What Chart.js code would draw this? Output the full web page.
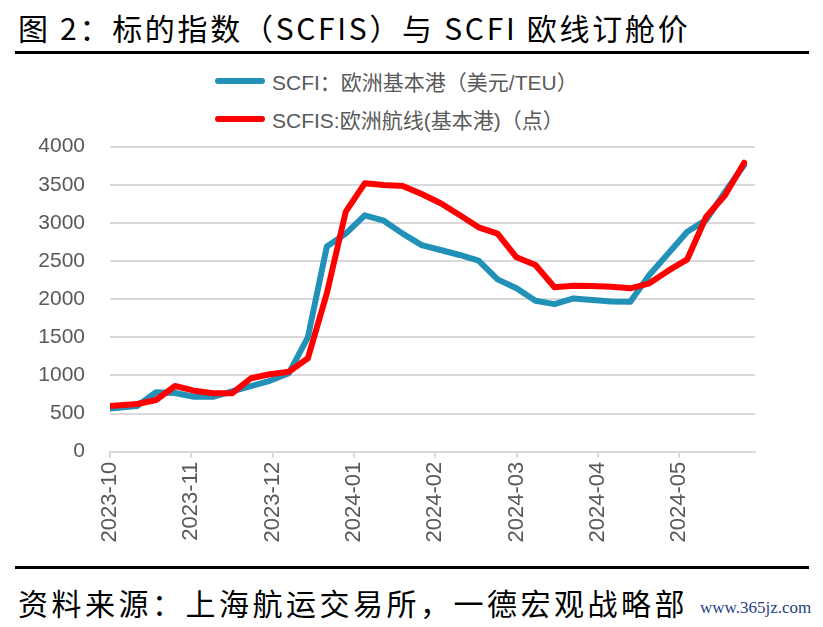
<!DOCTYPE html>
<html lang="zh">
<head>
<meta charset="UTF-8">
<script src="https://cdn.jsdelivr.net/npm/chart.js"></script>
<style>
  body { margin: 0; background: #fff; }
  .page { position: relative; width: 823px; height: 627px; overflow: hidden; }
  .rule { position: absolute; left: 15px; width: 794px; height: 3px; background: #000; }
  .cn { position: absolute; left: 18px; font-family: "Noto Sans CJK SC", sans-serif; font-size: 30px; letter-spacing: 3.5px; white-space: nowrap; color: #000; }
  #legend { position: absolute; left: 215px; top: 62px; font-family: "Liberation Sans", "Noto Sans CJK SC", sans-serif; font-size: 21px; color: #595959; }
  .row { display: flex; align-items: center; height: 38px; white-space: nowrap; }
  .swatch { width: 50px; height: 6px; border-radius: 3px; margin-right: 7px; }
  #wm { position: absolute; left: 700px; top: 598px; font-family: "Liberation Serif", serif; font-size: 17px; color: #1f3f7f; }
</style>
</head>
<body>
<div class="page">
  <div class="cn" style="top:5px; letter-spacing:2.7px">图 2：标的指数（SCFIS）与 SCFI 欧线订舱价</div>
  <div class="rule" style="top:51px"></div>
  <div id="legend"></div>
  <div style="position:absolute; left:0; top:56px; width:823px; height:510px">
    <canvas id="chart" width="823" height="510"></canvas>
  </div>
  <div class="rule" style="top:566px"></div>
  <div class="cn" style="top:580px">资料来源：上海航运交易所，一德宏观战略部</div>
  <div id="wm">www.365jz.com</div>
</div>

<script>
  // weekly observations
  const dates = ['2023-10-03', '2023-10-13', '2023-10-20', '2023-10-27',
    '2023-11-03', '2023-11-10', '2023-11-17', '2023-11-24',
    '2023-12-01', '2023-12-08', '2023-12-15', '2023-12-22', '2023-12-29',
    '2024-01-05', '2024-01-12', '2024-01-19', '2024-01-26',
    '2024-02-02', '2024-02-09', '2024-02-16', '2024-02-23',
    '2024-03-01', '2024-03-08', '2024-03-15', '2024-03-22', '2024-03-29',
    '2024-04-05', '2024-04-12', '2024-04-19', '2024-04-26',
    '2024-05-03', '2024-05-10', '2024-05-17', '2024-05-24'];

  const scfi = [565, 600, 780, 770, 720, 720, 790, 860, 930, 1030, 1500, 2690, 2860,
    3100, 3030, 2860, 2710, 2645, 2580, 2505, 2260, 2143, 1980, 1935, 2010, 1990,
    1970, 1968, 2317, 2600, 2885, 3040, 3410, 3760];

  const scfis = [600, 625, 678, 862, 800, 766, 766, 963, 1015, 1049, 1225, 2077, 3148,
    3520, 3498, 3485, 3380, 3258, 3104, 2943, 2860, 2550, 2449, 2156, 2177, 2173,
    2164, 2143, 2208, 2374, 2523, 3082, 3367, 3790];

  const tickDays = [0, 30, 60, 90, 120, 150, 180, 210];
  const tickLabels = ['2023-10', '2023-11', '2023-12', '2024-01', '2024-02', '2024-03', '2024-04', '2024-05'];

  const day0 = new Date(dates[0]);
  const dayOf = d => Math.round((new Date(d) - day0) / 86400000);

  const series = [
    { label: 'SCFI：欧洲基本港（美元/TEU）', values: scfi, color: '#2191b8', order: 2 },
    { label: 'SCFIS:欧洲航线(基本港)（点）', values: scfis, color: '#ff0000', order: 1 }
  ];

  const legend = document.getElementById('legend');
  series.forEach(s => {
    const row = document.createElement('div');
    row.className = 'row';
    row.innerHTML = `<span class="swatch" style="background:${s.color}"></span><span>${s.label}</span>`;
    legend.appendChild(row);
  });

  new Chart(document.getElementById('chart'), {
    type: 'line',
    data: {
      datasets: series.map(s => ({
        label: s.label,
        data: dates.map((d, i) => ({ x: dayOf(d), y: s.values[i] })),
        borderColor: s.color,
        backgroundColor: s.color,
        borderWidth: 6,
        pointRadius: 0,
        tension: 0,
        borderJoinStyle: 'round',
        borderCapStyle: 'round',
        order: s.order
      }))
    },
    options: {
      responsive: false,
      animation: false,
      layout: { padding: { top: 90.7, right: 68, left: 0, bottom: 0 } },
      plugins: { legend: { display: false }, tooltip: { enabled: false } },
      scales: {
        x: {
          type: 'linear',
          min: 0,
          max: 238,
          afterBuildTicks: s => { s.ticks = tickDays.map(v => ({ value: v })); },
          afterFit: s => { s.height = 114.3; },
          ticks: {
            autoSkip: false,
            minRotation: 90,
            maxRotation: 90,
            padding: 4,
            color: '#595959',
            font: { family: 'Liberation Sans', size: 22 },
            callback: (v, i) => tickLabels[i]
          },
          grid: { drawOnChartArea: false, drawTicks: true, tickLength: 6, color: '#d9d9d9', lineWidth: 2 },
          border: { display: true, color: '#d9d9d9', width: 2 }
        },
        y: {
          min: 0,
          max: 4000,
          afterFit: s => { s.width = 110; },
          ticks: { stepSize: 500, padding: 25, color: '#595959', font: { family: 'Liberation Sans', size: 21 }, callback: v => String(v) },
          grid: { color: '#d9d9d9', lineWidth: 2, drawTicks: false },
          border: { display: false }
        }
      }
    }
  });
</script>
</body>
</html>
